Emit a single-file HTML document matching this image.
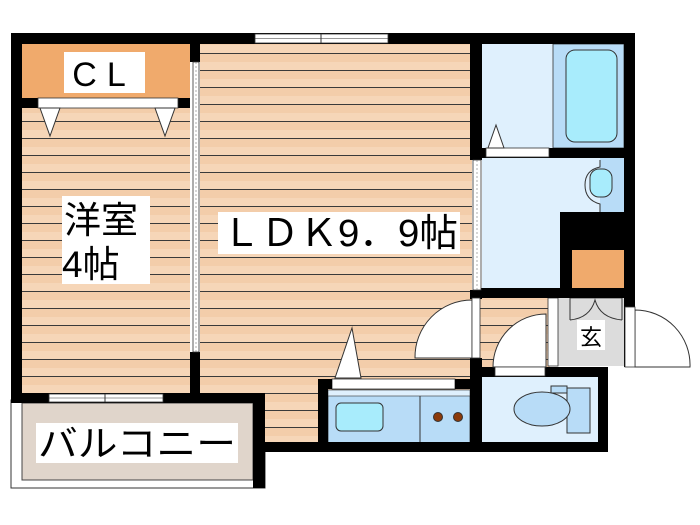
<!DOCTYPE html>
<html><head><meta charset="utf-8"><style>
html,body{margin:0;padding:0;background:#fff;}
svg{display:block}
text{font-family:"Liberation Sans","Noto Sans CJK JP",sans-serif;fill:#000}
</style></head><body>
<svg width="700" height="525" viewBox="0 0 700 525" xmlns="http://www.w3.org/2000/svg">
<defs>
<pattern id="fl" x="0" y="37" width="10" height="17" patternUnits="userSpaceOnUse">
<rect width="10" height="17" fill="#f3cdaa"/>
<rect y="8" width="10" height="8" fill="#f6d6b8"/>
<rect y="16" width="10" height="1.5" fill="#3a3a3a"/>
</pattern>
</defs>
<!-- balcony -->
<rect x="11" y="400" width="254" height="88" fill="#fff" stroke="#333" stroke-width="1"/>
<rect x="22" y="403" width="231" height="77" fill="#e0d5cb" stroke="#444" stroke-width="1"/>
<!-- floors -->
<rect x="22" y="44" width="168" height="350" fill="url(#fl)"/>
<rect x="200" y="44" width="272" height="352" fill="url(#fl)"/>
<rect x="265" y="390" width="55" height="55" fill="url(#fl)"/>
<rect x="480" y="298" width="70" height="70" fill="url(#fl)"/>
<!-- CL -->
<rect x="22" y="44" width="168" height="54" fill="#f0aa6c"/>
<rect x="22" y="98" width="168" height="10" fill="#000"/>
<rect x="38" y="98" width="140" height="10" fill="#fff" stroke="#333" stroke-width="0.8"/>
<polygon points="40,108 60,108 50,136" fill="#fff" stroke="#333"/>
<polygon points="155,108 175,108 165,136" fill="#fff" stroke="#333"/>
<!-- bath -->
<rect x="482" y="44" width="142" height="104" fill="#dff0fd"/>
<rect x="553" y="44" width="71" height="104" fill="#b8dcf7" stroke="#333" stroke-width="0.8"/>
<rect x="566" y="50" width="51" height="92" rx="9" fill="#a8ecfc" stroke="#333" stroke-width="1"/>
<!-- washroom -->
<rect x="482" y="158" width="142" height="132" fill="#dff0fd"/>
<rect x="600" y="158" width="24" height="55" fill="#b8dcf7"/>
<path d="M600,160 L600,167 Q585,170 585,185 Q585,200 600,204 L600,212" fill="#dff0fd" stroke="#333" stroke-width="1"/>
<rect x="590" y="169" width="22" height="28" rx="9" fill="#a8ecfc" stroke="#333"/>
<rect x="560" y="212" width="64" height="80" fill="#000"/>
<rect x="572" y="250" width="52" height="40" fill="#f0aa6c"/>
<!-- entrance -->
<rect x="558" y="298" width="66" height="68" fill="#dcdcdc"/>
<rect x="570" y="290" width="52" height="8" fill="#fff" stroke="#333" stroke-width="0.8"/>
<path d="M570,320 Q590,318 595,300 Q600,318 622,320" fill="none" stroke="#333"/>
<path d="M570,298 L570,320 M622,298 L622,320" stroke="#333"/>
<rect x="548" y="298" width="10" height="68" fill="#fff" stroke="#333" stroke-width="0.8"/>
<!-- toilet -->
<rect x="482" y="377" width="116" height="66" fill="#dff0fd"/>
<rect x="567" y="388" width="23" height="45" fill="#b8dcf7" stroke="#333"/>
<rect x="551" y="386" width="16" height="7" fill="#b8dcf7" stroke="#333"/>
<ellipse cx="542" cy="409" rx="28" ry="17" fill="#b8dcf7" stroke="#333"/>
<!-- kitchen -->
<rect x="328" y="390" width="142" height="53" fill="#b8dcf7" stroke="#333" stroke-width="0.8"/>
<rect x="328" y="390" width="142" height="6" fill="#dff0fd" stroke="#333" stroke-width="0.6"/>
<line x1="420" y1="396" x2="420" y2="443" stroke="#333"/>
<rect x="336" y="403" width="47" height="28" rx="5" fill="#a8ecfc" stroke="#333"/>
<circle cx="438" cy="417" r="4.5" fill="#8b3a0a" stroke="#333"/>
<circle cx="458" cy="417" r="4.5" fill="#8b3a0a" stroke="#333"/>
<rect x="332" y="379" width="123" height="10" fill="#fff" stroke="#333" stroke-width="0.8"/>
<polygon points="335,378 361,378 352,328" fill="#fff" stroke="#333"/>
<!-- walls -->
<g fill="#000">
<rect x="11" y="33" width="624" height="11"/>
<rect x="11" y="33" width="11" height="370"/>
<rect x="11" y="393" width="254" height="10"/>
<rect x="253" y="393" width="12" height="95"/>
<rect x="190" y="44" width="10" height="18"/>
<rect x="190" y="352" width="10" height="44"/>
<rect x="200" y="393" width="65" height="3"/>
<rect x="265" y="442" width="343" height="10"/>
<rect x="318" y="379" width="10" height="73"/>
<rect x="318" y="379" width="14" height="10"/>
<rect x="455" y="379" width="15" height="10"/>
<rect x="470" y="44" width="12" height="116"/>
<rect x="470" y="290" width="12" height="9"/>
<rect x="470" y="358" width="12" height="94"/>
<rect x="624" y="33" width="11" height="334"/>
<rect x="482" y="148" width="142" height="10"/>
<rect x="480" y="288" width="155" height="10"/>
<rect x="480" y="367" width="128" height="10"/>
<rect x="598" y="367" width="10" height="85"/>
<rect x="548" y="290" width="10" height="8"/>
</g>
<!-- windows/doors white -->
<rect x="255" y="34" width="133" height="9" fill="#fff" stroke="#333" stroke-width="0.8"/>
<line x1="255" y1="38.5" x2="388" y2="38.5" stroke="#333" stroke-width="0.6"/>
<line x1="321" y1="34" x2="321" y2="43" stroke="#333"/>
<rect x="49" y="394" width="114" height="8" fill="#fff" stroke="#333" stroke-width="0.8"/>
<line x1="49" y1="398" x2="163" y2="398" stroke="#333" stroke-width="0.6"/>
<line x1="105" y1="394" x2="105" y2="402" stroke="#333"/>
<rect x="486" y="148" width="63" height="9" fill="#fff" stroke="#333" stroke-width="0.8"/>
<polygon points="488,148 504,148 496,125" fill="#fff" stroke="#333"/>
<rect x="193" y="62" width="6" height="290" fill="#fff" stroke="#333" stroke-width="0.8"/>
<line x1="196" y1="62" x2="196" y2="352" stroke="#777" stroke-width="0.6" stroke-dasharray="2,2"/>
<rect x="473" y="160" width="8" height="130" fill="#fff" stroke="#333" stroke-width="0.8"/>
<line x1="477" y1="160" x2="477" y2="290" stroke="#777" stroke-width="0.6" stroke-dasharray="2,2"/>
<!-- door arcs -->
<path d="M472,358 L415,358 A57,57 0 0 1 472,300 Z" fill="#fff" stroke="#333"/>
<rect x="472" y="298" width="8" height="60" fill="#fff" stroke="#333" stroke-width="0.8"/>
<path d="M546,367 L493,367 A53,53 0 0 1 546,314 Z" fill="#fff" stroke="#333"/>
<rect x="495" y="367" width="50" height="9" fill="#fff" stroke="#333" stroke-width="0.8"/>
<path d="M635,367 L690,367 A55,55 0 0 0 635,310 Z" fill="#fff" stroke="#333"/>
<rect x="625" y="307" width="10" height="60" fill="#fff" stroke="#333" stroke-width="0.8"/>
<!-- labels -->
<rect x="64" y="52" width="81" height="41" fill="#fff"/>
<text x="104" y="86" font-size="34" text-anchor="middle" letter-spacing="10">CL</text>
<rect x="62" y="196" width="88" height="88" fill="#fff"/>
<text x="64" y="233" font-size="37">洋室</text>
<text x="62" y="277" font-size="37">4帖</text>
<rect x="218" y="212" width="242" height="42" fill="#fff"/>
<text x="222" y="246" font-size="38" textLength="236" lengthAdjust="spacingAndGlyphs">ＬＤＫ9．9帖</text>
<rect x="36" y="423" width="202" height="40" fill="#fff"/>
<text x="38" y="456" font-size="36" textLength="198" lengthAdjust="spacingAndGlyphs">バルコニー</text>
<rect x="577" y="320" width="28" height="30" fill="#fff"/>
<text x="591" y="345" font-size="22" text-anchor="middle">玄</text>
</svg>
</body></html>
